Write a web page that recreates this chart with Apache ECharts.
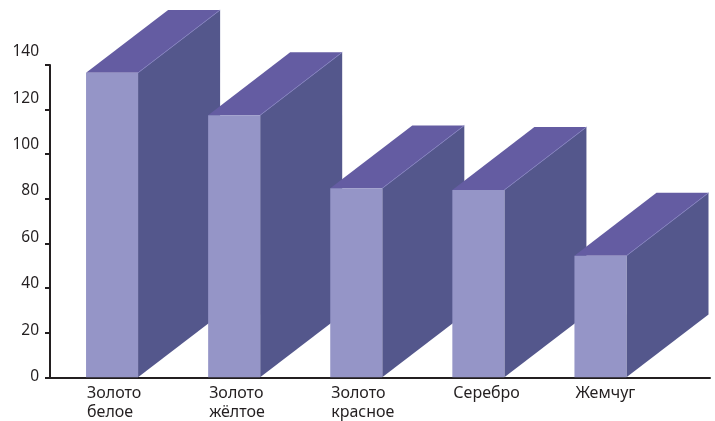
<!DOCTYPE html>
<html>
<head>
<meta charset="utf-8">
<script src="https://cdn.jsdelivr.net/npm/echarts@6/dist/echarts.min.js"></script>
<style>
  html, body { margin: 0; padding: 0; background: #fff; }
  #chart { width: 715px; height: 421px; }
</style>
</head>
<body>
<div id="chart"></div>
<script>
var categories = ['Золото\nбелое', 'Золото\nжёлтое', 'Золото\nкрасное', 'Серебро', 'Жемчуг'];
var values = [136.5, 117.5, 84.7, 84, 54.5];
var yTicks = [0, 20, 40, 60, 80, 100, 120, 140];

var frontColor = '#9595c7';
var sideColor = '#54578c';
var topColor = '#645ca2';
var inkColor = '#231f20';
var fontName = '"Noto Sans", sans-serif';

function renderBar(params, api) {
    var c = api.coord([api.value(0), api.value(1)]);
    var b = api.coord([api.value(0), 0]);
    var band = api.size([1, 0])[0];
    var hw = band * 0.213;
    var dx = band * 0.672;
    var dy = dx * 0.766;
    var l = c[0] - hw, r = c[0] + hw;
    return {
        type: 'group',
        children: [{
            type: 'polygon',
            shape: { points: [[r, c[1]], [r + dx, c[1] - dy], [r + dx, b[1] - dy], [r, b[1]]] },
            style: { fill: sideColor }
        }, {
            type: 'polygon',
            shape: { points: [[l, c[1]], [l + dx, c[1] - dy], [r + dx, c[1] - dy], [r, c[1]]] },
            style: { fill: topColor }
        }, {
            type: 'line',
            shape: { x1: r, y1: c[1], x2: r + dx, y2: c[1] - dy },
            style: { stroke: '#8380c0', lineWidth: 0.8 }
        }, {
            type: 'rect',
            shape: { x: l, y: c[1], width: hw * 2, height: b[1] - c[1] },
            style: { fill: frontColor }
        }, {
            type: 'text',
            x: l + 1,
            y: b[1] + 7,
            style: {
                text: categories[params.dataIndex],
                fill: inkColor,
                fontSize: 16,
                fontFamily: fontName,
                lineHeight: 19,
                verticalAlign: 'top',
                align: 'left'
            }
        }]
    };
}

var chart = echarts.init(document.getElementById('chart'));
chart.setOption({
    animation: false,
    grid: [
        { left: 51, top: 65, width: 610.5, bottom: 43.7 },
        { left: 50, top: 51.7, right: 5, bottom: 44.3 },
        { left: 50, top: 65, right: 5, bottom: 43.7 }
    ],
    xAxis: [{
        gridIndex: 0,
        type: 'category',
        data: categories,
        axisLine: { show: false },
        axisTick: { show: false },
        axisLabel: { show: false }
    }, {
        gridIndex: 1,
        type: 'value',
        show: false
    }, {
        gridIndex: 2,
        type: 'value',
        axisLine: { show: true, lineStyle: { color: inkColor, width: 2 } },
        axisTick: { show: false },
        axisLabel: { show: false },
        splitLine: { show: false }
    }],
    yAxis: [{
        gridIndex: 0,
        type: 'value',
        min: 0,
        max: 140,
        interval: 20,
        offset: 1,
        axisLine: { show: true, lineStyle: { color: inkColor, width: 2 } },
        axisTick: { show: true, length: 5, lineStyle: { color: inkColor, width: 2 } },
        axisLabel: { show: false },
        splitLine: { show: false }
    }, {
        gridIndex: 1,
        type: 'value',
        min: yTicks[0],
        max: yTicks[yTicks.length - 1],
        interval: 20,
        axisLine: { show: false },
        axisTick: { show: false },
        splitLine: { show: false },
        axisLabel: {
            margin: 11,
            color: inkColor,
            fontSize: 15.5,
            fontFamily: fontName
        }
    }, {
        gridIndex: 2,
        type: 'value',
        show: false
    }],
    series: [{
        type: 'custom',
        xAxisIndex: 0,
        yAxisIndex: 0,
        renderItem: renderBar,
        encode: { x: 0, y: 1 },
        data: values.map(function (v, i) { return [i, v]; })
    }]
});
</script>
</body>
</html>
